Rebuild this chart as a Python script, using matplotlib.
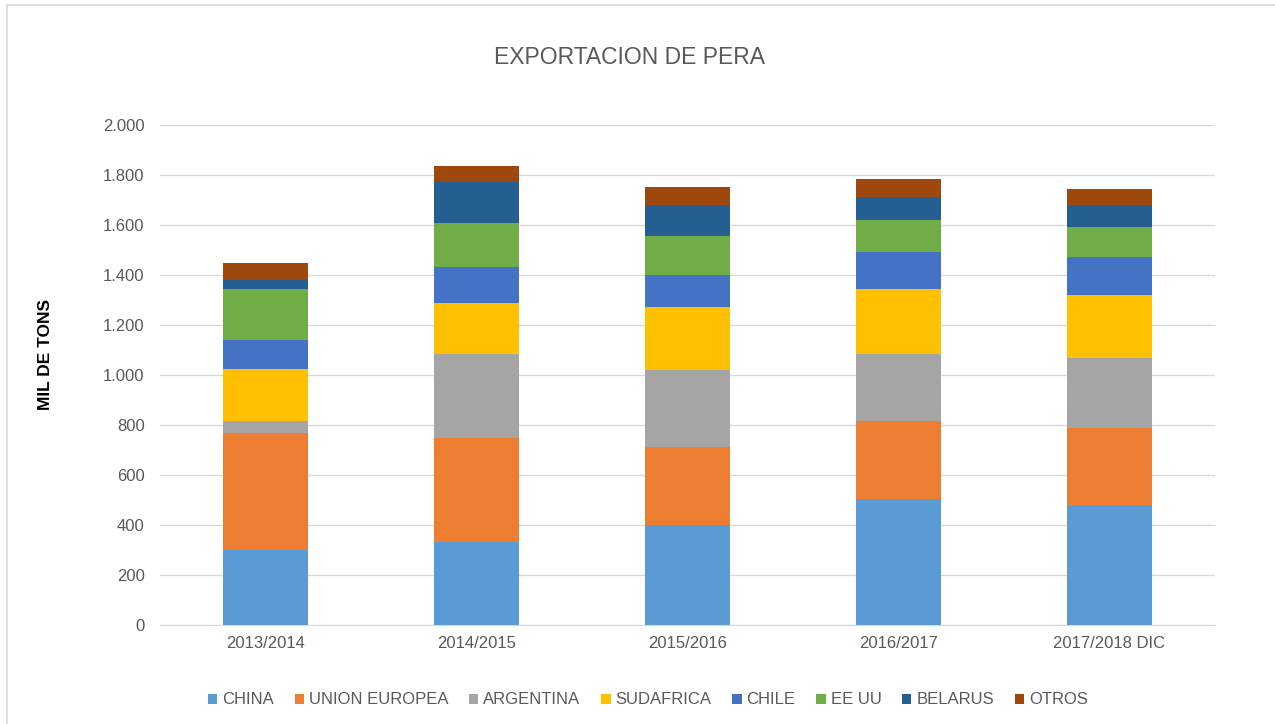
import matplotlib
matplotlib.use("Agg")
import matplotlib.pyplot as plt
from matplotlib.ticker import FuncFormatter
from matplotlib.patches import Rectangle
import numpy as np

plt.rcParams['font.family'] = ['Liberation Sans', 'DejaVu Sans']

campaigns = ["2013/2014", "2014/2015", "2015/2016", "2016/2017", "2017/2018 DIC"]
china = [300, 333, 400, 505, 479]
union_europea = [468, 415, 311, 311, 309]
argentina = [47, 335, 309, 269, 280]
sudafrica = [209, 204, 252, 260, 251]
chile = [116, 145, 127, 148, 153]
ee_uu = [203, 175, 157, 128, 120]
belarus = [37, 164, 123, 90, 87]
otros = [67, 65, 74, 72, 65]

series = [
    ("CHINA", china, "#5B9BD5"),
    ("UNION EUROPEA", union_europea, "#ED7D31"),
    ("ARGENTINA", argentina, "#A5A5A5"),
    ("SUDAFRICA", sudafrica, "#FFC000"),
    ("CHILE", chile, "#4472C4"),
    ("EE UU", ee_uu, "#70AD47"),
    ("BELARUS", belarus, "#255E91"),
    ("OTROS", otros, "#9E480E"),
]

fig = plt.figure(figsize=(12.75, 7.24), dpi=100)
ax = fig.add_axes([160 / 1275, 1 - 625 / 724, 1055 / 1275, 500 / 724])

x = np.arange(len(campaigns))
bottom = np.zeros(len(campaigns))
for name, vals, col in series:
    ax.bar(x, vals, 0.4, bottom=bottom, color=col, label=name, zorder=3)
    bottom += np.array(vals)

ax.set_xlim(-0.5, len(campaigns) - 0.5)
ax.set_ylim(0, 2000)
ax.set_yticks(range(0, 2001, 200))
ax.yaxis.set_major_formatter(FuncFormatter(lambda v, p: f"{int(v):,}".replace(",", ".")))
ax.set_xticks(x)
ax.set_xticklabels(campaigns)
ax.tick_params(axis="both", length=0, labelsize=12, labelcolor="#595959")
ax.tick_params(axis="x", pad=8)
ax.tick_params(axis="y", pad=11)
ax.grid(axis="y", color="#D9D9D9", linewidth=1, zorder=0)
for s in ["top", "right", "left"]:
    ax.spines[s].set_visible(False)
ax.spines["bottom"].set_color("#D9D9D9")

fig.text(630 / 1275, 1 - 57 / 724, "EXPORTACION DE PERA", ha="center", va="center",
         fontsize=16.5, color="#595959")
fig.text(46 / 1275, 1 - 354 / 724, "MIL DE TONS", ha="center", va="center",
         rotation=90, fontsize=12.5, fontweight="bold", color="black")

fig.legend(loc="center", bbox_to_anchor=(648 / 1275, 1 - 700 / 724), ncol=8, frameon=False,
           handlelength=0.55, handleheight=0.55, handletextpad=0.3, columnspacing=1.25,
           fontsize=12, labelcolor="#595959")

fig.patches.append(Rectangle((7 / 1275, -0.01), 1.0, 1 - 5 / 724 + 0.01, transform=fig.transFigure,
                             fill=False, edgecolor="#D9D9D9", linewidth=1.2))

fig.savefig("out.png", dpi=100)
